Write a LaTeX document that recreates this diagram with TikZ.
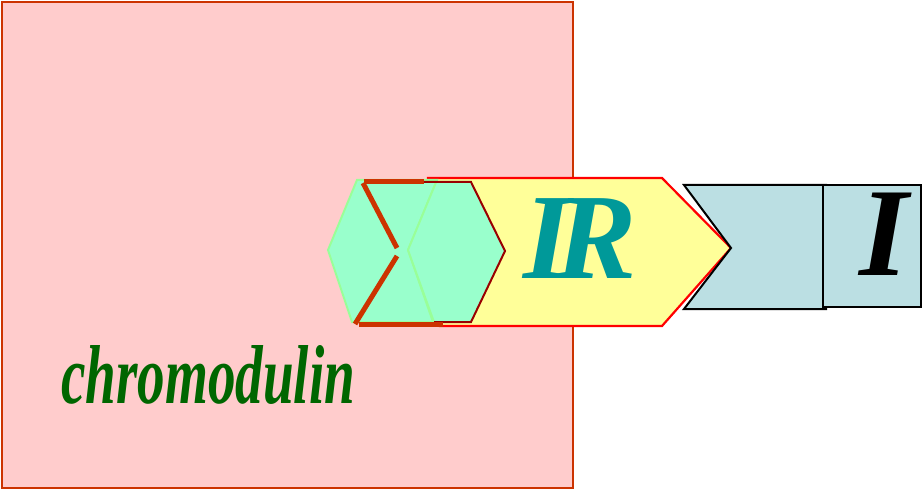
\documentclass[tikz,border=0pt]{standalone}
\usepackage{fontspec}
\setmainfont{Liberation Serif}
\definecolor{pinkfill}{HTML}{FFCCCC}
\definecolor{pinkedge}{HTML}{CC3300}
\definecolor{yellowfill}{HTML}{FFFF99}
\definecolor{cyanfill}{HTML}{BBDFE3}
\definecolor{hexfill}{HTML}{99FFCC}
\definecolor{hexedge}{HTML}{99FF99}
\definecolor{hexdark}{HTML}{990000}
\definecolor{zigzag}{HTML}{CC3300}
\definecolor{tealtext}{HTML}{009999}
\definecolor{greentext}{HTML}{006600}
\tikzset{
  cell/.style={fill=cyanfill,draw=black,line width=2pt,line join=miter},
  hexshape/.style={fill=hexfill,draw=hexedge,line width=2pt},
  thickedge/.style={draw=zigzag,line width=5pt},
  bigletter/.style={font=\fontsize{122}{122}\selectfont\bfseries\itshape,inner sep=0pt}
}
\begin{document}
\begin{tikzpicture}[x=1pt,y=-1pt]
\useasboundingbox (0,0) rectangle (923,489);
\fill[white] (0,0) rectangle (923,489);
% big pink box
\draw[fill=pinkfill,draw=pinkedge,line width=2pt] (2,2) rectangle (573,488);
% yellow arrow
\draw[fill=yellowfill,draw=red,line width=2.2pt] (428,178) -- (662,178) -- (731,248) -- (662,326) -- (440,326) -- cycle;
% cyan notched box and I box
\draw[cell] (684,185) -- (826,185) -- (826,309) -- (684,309) -- (731,248) -- cycle;
\draw[cell] (823,185) rectangle (921,307);
% hexagons
\draw[hexshape] (328,250) -- (357,180) -- (437,180) -- (408,250) -- (433,322) -- (352,322) -- cycle;
\fill[hexfill] (408,250) -- (437,181) -- (471,181) -- (505,251) -- (471,322) -- (434,322) -- cycle;
\draw[draw=hexedge,line width=2pt] (437,180) -- (408,250) -- (434,322);
\draw[draw=hexdark,line width=2pt] (423,182) -- (471,182) -- (505,251) -- (471,322) -- (434,322);
% orange-red thick edges
\draw[thickedge] (364,182) -- (424,182);
\draw[thickedge] (363,183) -- (397,248);
\draw[thickedge] (397,256) -- (355,324);
\draw[thickedge] (359,324) -- (443,324);
% texts
\node[bigletter,text=tealtext,anchor=base] (ir) at (580,278) {I\kern-16pt R};
\node[bigletter,text=black,anchor=base,font=\fontsize{126}{126}\selectfont\bfseries\itshape] (i) at (884,275) {I};
\node[anchor=base west,inner sep=0pt,text=greentext] (chromo) at (61,403) {\resizebox{294pt}{58pt}{\bfseries\itshape chromodulin}};
\end{tikzpicture}
\end{document}
